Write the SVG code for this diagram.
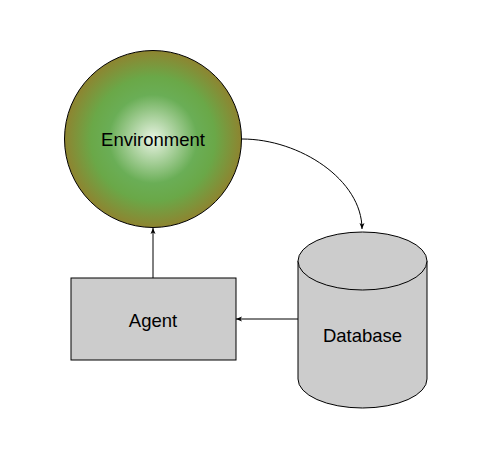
<svg xmlns="http://www.w3.org/2000/svg" width="492" height="459" viewBox="0 0 492 459">
<style>
text{font-family:"Liberation Sans",Arial,sans-serif;font-size:18.5px;fill:#000;text-anchor:middle;dominant-baseline:central}
.sh{stroke:#000;stroke-width:1}
.ln{fill:none;stroke:#000;stroke-width:1}
</style>
<defs>
<radialGradient id="g" cx="0.5" cy="0.5" r="0.5">
<stop offset="0" stop-color="#e8f3e2"/>
<stop offset="0.5" stop-color="#6aae56"/>
<stop offset="0.7" stop-color="#6aa848"/>
<stop offset="1" stop-color="#8e8430"/>
</radialGradient>
<marker id="a" markerWidth="8" markerHeight="8" refX="7" refY="4" orient="auto" markerUnits="userSpaceOnUse">
<path d="M1,1.5 L7,4 L1,6.5 L2.5,4 Z" fill="#000"/>
</marker>
</defs>
<rect width="492" height="459" fill="#fff"/>
<g id="connectors">
<path class="ln" d="M242,139 C300,139 362,180 362,229" marker-end="url(#a)"/>
<path class="ln" d="M153,278 L153,228" marker-end="url(#a)"/>
<path class="ln" d="M298,319 L236,319" marker-end="url(#a)"/>
</g>
<g id="environment">
<circle class="sh" cx="153" cy="139" r="88.5" fill="url(#g)"/>
<text x="153" y="139">Environment</text>
</g>
<g id="agent">
<rect class="sh" x="71" y="278" width="165" height="82" fill="#cccccc"/>
<text x="153" y="320">Agent</text>
</g>
<g id="database">
<path class="sh" d="M298,261 L298,379 A64.5,29 0 0 0 427,379 L427,261" fill="#cccccc"/>
<ellipse class="sh" cx="362.5" cy="261" rx="64.5" ry="29" fill="#cccccc"/>
<text x="362.5" y="335">Database</text>
</g>
</svg>
